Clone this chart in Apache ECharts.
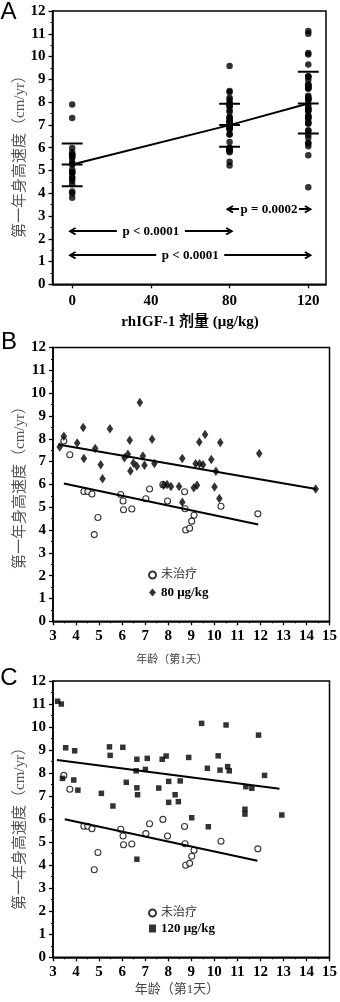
<!DOCTYPE html>
<html><head><meta charset="utf-8">
<script src="https://cdn.jsdelivr.net/npm/echarts@6/dist/echarts.min.js"></script>
<style>html,body{margin:0;padding:0;background:#fff}#c{width:340px;height:1002px}</style>
</head><body><div id="c"></div>
<script>
// ---- data ----
const doses = [0, 80, 120];
const doseTicks = [0, 40, 80, 120];
const velTicks = [0,1,2,3,4,5,6,7,8,9,10,11,12];
const groupMean = [5.26, 6.99, 7.94];
const groupUpper = [6.18, 7.93, 9.33];
const groupLower = [4.31, 6.04, 6.62];
const pLabels = ['p = 0.0002', 'p < 0.0001', 'p < 0.0001'];
const pFrom = [80, 0, 0];
const pTo = [120, 80, 120];
const pLevel = [3.3, 2.33, 1.28];

const untreatedAge = [3.47,3.73,4.34,4.51,4.69,4.79,4.95,5.94,6.04,6.06,6.42,7.03,7.19,7.77,7.97,8.71,8.73,8.76,8.93,9.02,9.12,10.29,11.89];
const untreatedVel = [7.9,7.3,5.69,5.69,5.58,3.8,4.55,5.56,5.27,4.89,4.92,5.37,5.8,5.99,5.27,5.68,4.93,4.0,4.08,4.39,4.65,5.04,4.71];

const dose80Age = [3.29,3.47,4.05,4.31,4.34,4.83,5.07,5.15,5.47,6.33,6.1,6.25,6.36,6.49,6.64,6.77,6.9,6.97,7.3,7.4,7.8,7.95,8.12,8.47,8.61,8.61,9.11,9.25,9.19,9.36,9.35,9.51,9.6,9.87,10.01,10.07,10.22,10.26,11.95,14.4];
const dose80Vel = [7.64,8.11,7.81,8.49,7.13,7.57,6.86,6.25,8.44,7.93,7.17,7.32,6.59,6.94,6.8,9.59,7.25,6.84,7.98,6.92,5.96,6.0,5.91,5.91,7.13,5.22,5.85,5.96,6.91,6.91,7.86,6.86,8.19,7.09,5.89,6.58,5.38,7.84,7.35,5.8];

const dose120Age = [3.2,3.36,3.55,3.94,5.45,5.48,6.03,6.64,7.09,6.61,7.01,7.74,7.91,8.89,9.45,10.51,11.92,10.17,9.7,10.25,10.58,10.65,12.18,3.41,3.9,4.08,5.1,5.6,6.18,6.64,6.67,7.59,8.02,8.52,8.3,8.02,8.44,9.02,9.74,6.64,11.37,11.63,11.33,11.33,12.93];
const dose120Vel = [11.12,11.0,9.1,8.97,9.14,8.77,9.12,8.6,8.64,8.1,8.16,8.6,8.74,8.68,10.16,10.09,9.65,8.75,8.21,8.13,8.28,8.1,7.9,7.77,7.7,7.26,7.12,6.57,7.6,7.36,7.06,7.35,7.64,7.66,7.06,6.73,6.76,6.06,5.67,4.26,7.41,7.34,6.43,6.22,6.18];

const ageTicks = [3,4,5,6,7,8,9,10,11,12,13,14,15];
const regUntreatedB = [[3.47, 6.04], [11.91, 4.24]];
const reg80B = [[3.22, 7.75], [14.42, 5.8]];
const regUntreatedC = [[3.51, 6.0], [11.87, 4.19]];
const reg120C = [[3.17, 8.57], [12.83, 7.32]];

// ---- chart ----
const SERIF = "'Liberation Serif','Noto Sans CJK SC',serif";
const chart = echarts.init(document.getElementById('c'), null, {renderer: 'canvas'});
const tickLabel = {fontFamily: SERIF, fontWeight: 'bold', fontSize: 15, color: '#000'};

function yAx(idx) {
  return {
    gridIndex: idx, type: 'value', min: 0, max: 12, interval: 1,
    axisLine: {show: true, onZero: false, lineStyle: {color: '#000', width: 1.6}},
    axisTick: {show: true, length: 4, lineStyle: {color: '#000', width: 1.3}},
    minorTick: {show: true, splitNumber: 2, length: 2, lineStyle: {color: '#000', width: 1}},
    axisLabel: Object.assign({margin: 7}, tickLabel),
    splitLine: {show: false}
  };
}
function xAgeAx(idx) {
  return {
    gridIndex: idx, type: 'value', min: 3, max: 15, interval: 1,
    axisLine: {show: true, onZero: false, lineStyle: {color: '#000', width: 1.6}},
    axisTick: {show: true, length: 4, lineStyle: {color: '#000', width: 1.3}},
    minorTick: {show: true, splitNumber: 2, length: 2, lineStyle: {color: '#000', width: 1}},
    axisLabel: Object.assign({margin: 7}, tickLabel),
    splitLine: {show: false}
  };
}

const halfW = 5.3;
const sdSegs = [];
doses.forEach((d, i) => {
  [groupUpper[i], groupMean[i], groupLower[i]].forEach(v => {
    sdSegs.push([d - halfW, v], [d + halfW, v], '-');
  });
});

const chevron = 'path://M5 0 L10 8.5 L8.3 10 L5 4.6 L1.7 10 L0 8.5 Z';

const dotStyle = {color: '#000'};
const option = {
  animation: false,
  backgroundColor: '#fff',
  grid: [
    {left: 52.5, top: 11, width: 273.5, height: 273.3, show: true, borderColor: '#000', borderWidth: 1.5, containLabel: false},
    {left: 53, top: 347.5, width: 279, height: 273.8, show: true, borderColor: '#000', borderWidth: 1.5},
    {left: 53, top: 681, width: 279, height: 276.3, show: true, borderColor: '#000', borderWidth: 1.5}
  ],
  xAxis: [
    {
      gridIndex: 0, type: 'value', min: -10, max: 129,
      axisLine: {show: true, onZero: false, lineStyle: {color: '#000', width: 1.6}},
      axisTick: {show: true, length: 4, customValues: doseTicks, lineStyle: {color: '#000', width: 1.3}},
      axisLabel: Object.assign({margin: 9, customValues: doseTicks}, tickLabel),
      splitLine: {show: false}
    },
    xAgeAx(1), xAgeAx(2)
  ],
  yAxis: [yAx(0), yAx(1), yAx(2)],
  legend: [
    {
      orient: 'vertical', left: 143, top: 564, itemWidth: 7, itemHeight: 8, itemGap: 5,
      selectedMode: false,
      data: [
        {name: '未治疗', textStyle: {fontFamily: SERIF, fontSize: 12, color: '#333'}},
        {name: '80 μg/kg', textStyle: {fontFamily: SERIF, fontWeight: 'bold', fontSize: 13, color: '#000'}}
      ]
    },
    {
      orient: 'vertical', left: 143, top: 902, itemWidth: 7, itemHeight: 8, itemGap: 3,
      selectedMode: false,
      data: [
        {name: '未治疗', textStyle: {fontFamily: SERIF, fontSize: 12, color: '#333'}},
        {name: '120 μg/kg', textStyle: {fontFamily: SERIF, fontWeight: 'bold', fontSize: 13, color: '#000'}}
      ]
    }
  ],
  series: [
    // Panel A
    {type: 'scatter', name: 'A0', xAxisIndex: 0, yAxisIndex: 0, symbol: 'circle', symbolSize: 6.5, itemStyle: dotStyle,
     data: untreatedVel.map(v => [doses[0], v])},
    {type: 'scatter', name: 'A80', xAxisIndex: 0, yAxisIndex: 0, symbol: 'circle', symbolSize: 6.5, itemStyle: dotStyle,
     data: dose80Vel.map(v => [doses[1], v])},
    {type: 'scatter', name: 'A120', xAxisIndex: 0, yAxisIndex: 0, symbol: 'circle', symbolSize: 6.5, itemStyle: dotStyle,
     data: dose120Vel.map(v => [doses[2], v])},
    {type: 'line', name: 'Amean', xAxisIndex: 0, yAxisIndex: 0, showSymbol: false, symbol: 'none',
     lineStyle: {color: '#000', width: 2}, data: doses.map((d, i) => [d, groupMean[i]])},
    {type: 'line', name: 'Asd', xAxisIndex: 0, yAxisIndex: 0, showSymbol: false, symbol: 'none', connectNulls: false,
     lineStyle: {color: '#000', width: 2}, data: sdSegs,
     markLine: {
       silent: true, symbol: [chevron, chevron], symbolSize: 8,
       lineStyle: {color: '#000', width: 1.8, type: 'solid'},
       label: {show: false},
       data: pLabels.map((t, i) => [{coord: [pFrom[i], pLevel[i]]}, {coord: [pTo[i], pLevel[i]]}])
     },
     markPoint: {
       silent: true, symbol: 'rect',
       itemStyle: {color: '#fff'},
       label: {show: true, position: 'inside', formatter: p => p.name, fontFamily: SERIF, fontWeight: 'bold', fontSize: 13, color: '#000'},
       data: pLabels.map((t, i) => ({name: t, coord: [(pFrom[i] + pTo[i]) / 2, pLevel[i]], symbolSize: [i === 0 ? 60 : 68, 12]}))
     }},
    // Panel B
    {type: 'scatter', name: '未治疗', xAxisIndex: 1, yAxisIndex: 1, symbol: 'circle', symbolSize: 6,
     itemStyle: {color: '#fff', borderColor: '#000', borderWidth: 1.1},
     data: untreatedAge.map((a, i) => [a, untreatedVel[i]])},
    {type: 'scatter', name: '80 μg/kg', xAxisIndex: 1, yAxisIndex: 1, symbol: 'diamond', symbolSize: [6.5, 9.5],
     itemStyle: dotStyle, data: dose80Age.map((a, i) => [a, dose80Vel[i]])},
    {type: 'line', name: 'regUB', xAxisIndex: 1, yAxisIndex: 1, symbol: 'none', lineStyle: {color: '#000', width: 2}, data: regUntreatedB},
    {type: 'line', name: 'reg80', xAxisIndex: 1, yAxisIndex: 1, symbol: 'none', lineStyle: {color: '#000', width: 2}, data: reg80B},
    // Panel C
    {type: 'scatter', name: '未治疗', xAxisIndex: 2, yAxisIndex: 2, symbol: 'circle', symbolSize: 6,
     itemStyle: {color: '#fff', borderColor: '#000', borderWidth: 1.1},
     data: untreatedAge.map((a, i) => [a, untreatedVel[i]])},
    {type: 'scatter', name: '120 μg/kg', xAxisIndex: 2, yAxisIndex: 2, symbol: 'rect', symbolSize: 5.5,
     itemStyle: dotStyle, data: dose120Age.map((a, i) => [a, dose120Vel[i]])},
    {type: 'line', name: 'regUC', xAxisIndex: 2, yAxisIndex: 2, symbol: 'none', lineStyle: {color: '#000', width: 2}, data: regUntreatedC},
    {type: 'line', name: 'reg120', xAxisIndex: 2, yAxisIndex: 2, symbol: 'none', lineStyle: {color: '#000', width: 2}, data: reg120C}
  ],
  graphic: [
    {type: 'text', x: 8.5, y: 12, style: {text: 'A', font: "24px 'Liberation Sans', Arial, sans-serif", fill: '#000', textAlign: 'center', textVerticalAlign: 'middle'}},
    {type: 'text', x: 9, y: 342, style: {text: 'B', font: "24px 'Liberation Sans', Arial, sans-serif", fill: '#000', textAlign: 'center', textVerticalAlign: 'middle'}},
    {type: 'text', x: 9, y: 678, style: {text: 'C', font: "24px 'Liberation Sans', Arial, sans-serif", fill: '#000', textAlign: 'center', textVerticalAlign: 'middle'}},
    {type: 'text', x: 20, y: 153, rotation: Math.PI / 2, style: {text: '第一年身高速度（cm/yr）', font: "15px " + SERIF, fill: '#555', textAlign: 'center', textVerticalAlign: 'middle'}},
    {type: 'text', x: 20, y: 484, rotation: Math.PI / 2, style: {text: '第一年身高速度（cm/yr）', font: "15px " + SERIF, fill: '#555', textAlign: 'center', textVerticalAlign: 'middle'}},
    {type: 'text', x: 20, y: 825, rotation: Math.PI / 2, style: {text: '第一年身高速度（cm/yr）', font: "15px " + SERIF, fill: '#555', textAlign: 'center', textVerticalAlign: 'middle'}},
    {type: 'text', x: 190, y: 322, style: {text: 'rhIGF-1 剂量 (μg/kg)', font: "bold 15px " + SERIF, fill: '#000', textAlign: 'center', textVerticalAlign: 'middle'}},
    {type: 'text', x: 172, y: 660, style: {text: '年龄（第1天）', font: "11px " + SERIF, fill: '#444', textAlign: 'center', textVerticalAlign: 'middle'}},
    {type: 'text', x: 177, y: 990, style: {text: '年龄（第1天）', font: "13px " + SERIF, fill: '#444', textAlign: 'center', textVerticalAlign: 'middle'}}
  ]
};
chart.setOption(option);
</script>
</body></html>
